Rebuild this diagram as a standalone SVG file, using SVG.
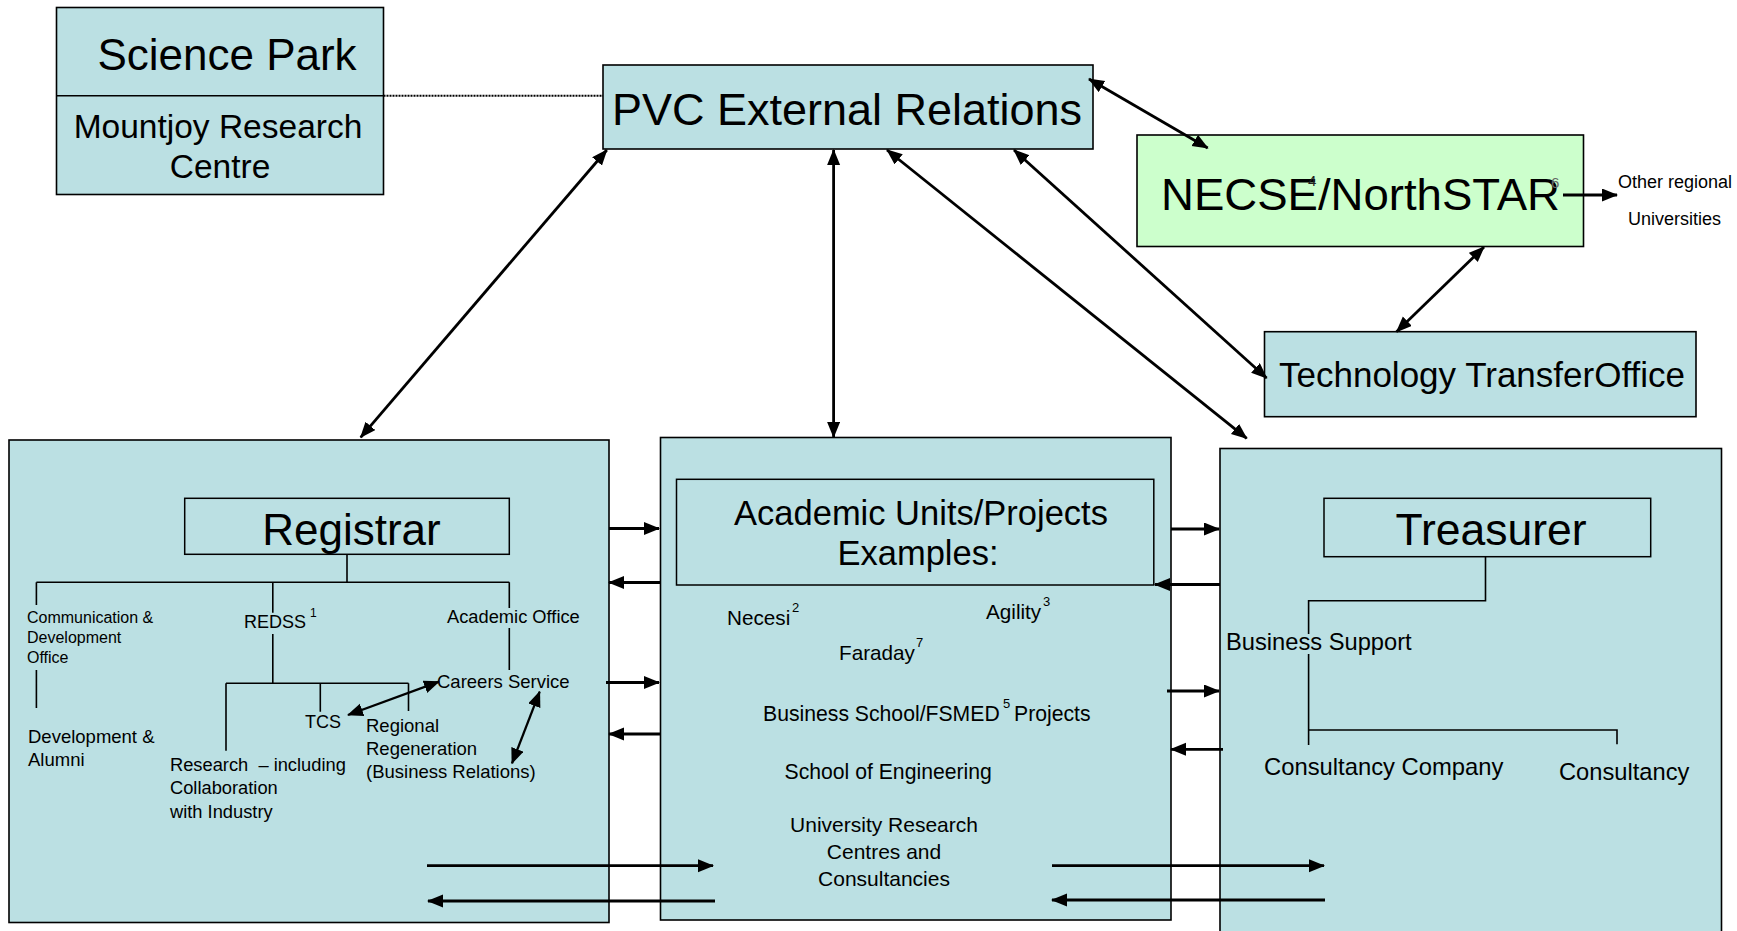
<svg xmlns="http://www.w3.org/2000/svg" width="1737" height="931" viewBox="0 0 1737 931">
<style>
text{font-family:"Liberation Sans",Arial,sans-serif;fill:#000}
.box{fill:#BBE0E3;stroke:#000;stroke-width:1.6}
.inner{fill:none;stroke:#000;stroke-width:1.5}
.green{fill:#CCFFCC;stroke:#000;stroke-width:1.6}
.tree{stroke:#000;stroke-width:1.6;fill:none}
.arr{stroke:#000;stroke-width:2.8;fill:none}
.arr2{stroke:#000;stroke-width:2.3;fill:none}
.sup{font-size:13px}
</style>
<defs>
<marker id="ah" markerUnits="userSpaceOnUse" markerWidth="17" markerHeight="15" refX="15" refY="6.5" orient="auto-start-reverse">
<path d="M0,0 L16,6.5 L0,13 z" fill="#000"/>
</marker>
</defs>
<rect width="1737" height="931" fill="#fff"/>

<g id="science-park">
<rect class="box" x="56.5" y="7.5" width="327" height="187"/>
<line class="tree" x1="56.5" y1="95.7" x2="383.5" y2="95.7"/>
<text x="227" y="70" font-size="44" text-anchor="middle">Science Park</text>
<text x="218" y="138" font-size="33.5" text-anchor="middle">Mountjoy Research</text>
<text x="220" y="178" font-size="33.5" text-anchor="middle">Centre</text>
</g>

<g id="pvc">
<rect class="box" x="603" y="65" width="490" height="84"/>
<text x="847" y="125" font-size="45" text-anchor="middle">PVC External Relations</text>
</g>

<g id="necse">
<rect class="green" x="1137" y="135" width="446.5" height="111.5"/>
<text x="1161" y="210" font-size="44" textLength="399" lengthAdjust="spacingAndGlyphs">NECSE/NorthSTAR</text>
<text x="1308" y="186" font-size="15" style="fill:#222">4</text>
<text x="1551" y="188" font-size="15" style="fill:#666">6</text>
</g>

<g id="other-regional">
<text x="1618" y="188" font-size="18">Other regional</text>
<text x="1628" y="225" font-size="18">Universities</text>
</g>

<g id="tto">
<rect class="box" x="1264.5" y="331.7" width="431.5" height="85"/>
<text x="1279" y="387" font-size="35">Technology TransferOffice</text>
</g>

<g id="registrar">
<rect class="box" x="9" y="440" width="600" height="482.5"/>
<rect class="inner" x="184.7" y="498.3" width="324.6" height="56"/>
<text x="351.5" y="545" font-size="44" text-anchor="middle">Registrar</text>
<path class="tree" d="M347,554.3V582.3 M36.4,582.3H509.3 M36.4,582.3V605 M272.8,582.3V612.7 M509.3,582.3V608 M36.4,670V708 M272.8,634V683.3 M509.3,628V670 M226,683.3H408.5 M226,683.3V750.7 M320.3,683.3V711.7 M408.5,683.3V711"/>
<text x="27" y="623" font-size="16">Communication &amp;</text>
<text x="27" y="643" font-size="16">Development</text>
<text x="27" y="663" font-size="16">Office</text>
<text x="28" y="743" font-size="18.5">Development &amp;</text>
<text x="28" y="766" font-size="18.5">Alumni</text>
<text x="244" y="628" font-size="18">REDSS</text>
<text x="310" y="617" font-size="12">1</text>
<text x="447" y="623" font-size="18.3">Academic Office</text>
<text x="437" y="688" font-size="18.5">Careers Service</text>
<text x="305" y="728" font-size="18">TCS</text>
<text x="366" y="732" font-size="18.5">Regional</text>
<text x="366" y="755" font-size="18.5">Regeneration</text>
<text x="366" y="778" font-size="18.5">(Business Relations)</text>
<text x="170" y="771" font-size="18.3" xml:space="preserve">Research  – including</text>
<text x="170" y="794" font-size="18.3">Collaboration</text>
<text x="170" y="818" font-size="18.3">with Industry</text>
</g>

<g id="academic">
<rect class="box" x="660.5" y="437.5" width="510.5" height="482.5"/>
<rect class="inner" x="676.5" y="479.3" width="477.3" height="105.7"/>
<text x="921" y="525" font-size="34.5" text-anchor="middle">Academic Units/Projects</text>
<text x="918" y="565" font-size="34.5" text-anchor="middle">Examples:</text>
<text x="727" y="625" font-size="20.7">Necesi</text>
<text x="792" y="612" class="sup">2</text>
<text x="986" y="619" font-size="20.7">Agility</text>
<text x="1043" y="606" class="sup">3</text>
<text x="839" y="660" font-size="20.7">Faraday</text>
<text x="916" y="647" class="sup">7</text>
<text x="763" y="721" font-size="21.2">Business School/FSMED</text>
<text x="1003" y="708" class="sup">5</text>
<text x="1014" y="721" font-size="21.2">Projects</text>
<text x="784.5" y="779" font-size="21.2">School of Engineering</text>
<text x="884" y="832" font-size="21" text-anchor="middle">University Research</text>
<text x="884" y="859" font-size="21" text-anchor="middle">Centres and</text>
<text x="884" y="886" font-size="21" text-anchor="middle">Consultancies</text>
</g>

<g id="treasurer">
<rect class="box" x="1220" y="448.5" width="501.5" height="490"/>
<rect class="inner" x="1324" y="498.3" width="326.7" height="58.4"/>
<text x="1491" y="545" font-size="44.5" text-anchor="middle">Treasurer</text>
<path class="tree" d="M1485.5,556.7V600.7 H1308.6 V634 M1308.6,654V745 M1308.6,730H1617V744.3"/>
<text x="1226" y="650" font-size="23.7">Business Support</text>
<text x="1264" y="775" font-size="23.8">Consultancy Company</text>
<text x="1559" y="780" font-size="23.7">Consultancy</text>
</g>

<g id="connectors">
<line x1="383.5" y1="95.7" x2="603" y2="95.7" stroke="#000" stroke-width="2" stroke-dasharray="2,1"/>
<line class="arr" x1="606.8" y1="150" x2="360.7" y2="437.3" marker-start="url(#ah)" marker-end="url(#ah)"/>
<line class="arr" x1="833.6" y1="150" x2="833.6" y2="437" marker-start="url(#ah)" marker-end="url(#ah)"/>
<line class="arr" x1="887" y1="150" x2="1246.7" y2="438.3" marker-start="url(#ah)" marker-end="url(#ah)"/>
<line class="arr" x1="1014" y1="150" x2="1266.6" y2="378" marker-start="url(#ah)" marker-end="url(#ah)"/>
<line class="arr" x1="1089" y1="79" x2="1207.7" y2="148" marker-start="url(#ah)" marker-end="url(#ah)"/>
<line class="arr" x1="1484" y1="247" x2="1396.6" y2="331.7" marker-start="url(#ah)" marker-end="url(#ah)"/>
<line class="arr" x1="1563" y1="195" x2="1617" y2="195" marker-end="url(#ah)"/>
<line class="arr" x1="609" y1="528.5" x2="659" y2="528.5" marker-end="url(#ah)"/>
<line class="arr" x1="660" y1="582.5" x2="609" y2="582.5" marker-end="url(#ah)"/>
<line class="arr" x1="606" y1="682.5" x2="659" y2="682.5" marker-end="url(#ah)"/>
<line class="arr" x1="660" y1="734" x2="609" y2="734" marker-end="url(#ah)"/>
<line class="arr" x1="427" y1="865.7" x2="713" y2="865.7" marker-end="url(#ah)"/>
<line class="arr" x1="715" y1="901" x2="428" y2="901" marker-end="url(#ah)"/>
<line class="arr" x1="1171" y1="529" x2="1219" y2="529" marker-end="url(#ah)"/>
<line class="arr" x1="1220" y1="584.5" x2="1155" y2="584.5" marker-end="url(#ah)"/>
<line class="arr" x1="1167" y1="691" x2="1219" y2="691" marker-end="url(#ah)"/>
<line class="arr" x1="1223" y1="749.3" x2="1171" y2="749.3" marker-end="url(#ah)"/>
<line class="arr" x1="1052" y1="865.7" x2="1324" y2="865.7" marker-end="url(#ah)"/>
<line class="arr" x1="1325" y1="900" x2="1052" y2="900" marker-end="url(#ah)"/>
<line class="arr2" x1="348" y1="715" x2="439" y2="681.7" marker-start="url(#ah)" marker-end="url(#ah)"/>
<line class="arr2" x1="539.7" y1="691.7" x2="512" y2="763.3" marker-start="url(#ah)" marker-end="url(#ah)"/>
</g>
</svg>
